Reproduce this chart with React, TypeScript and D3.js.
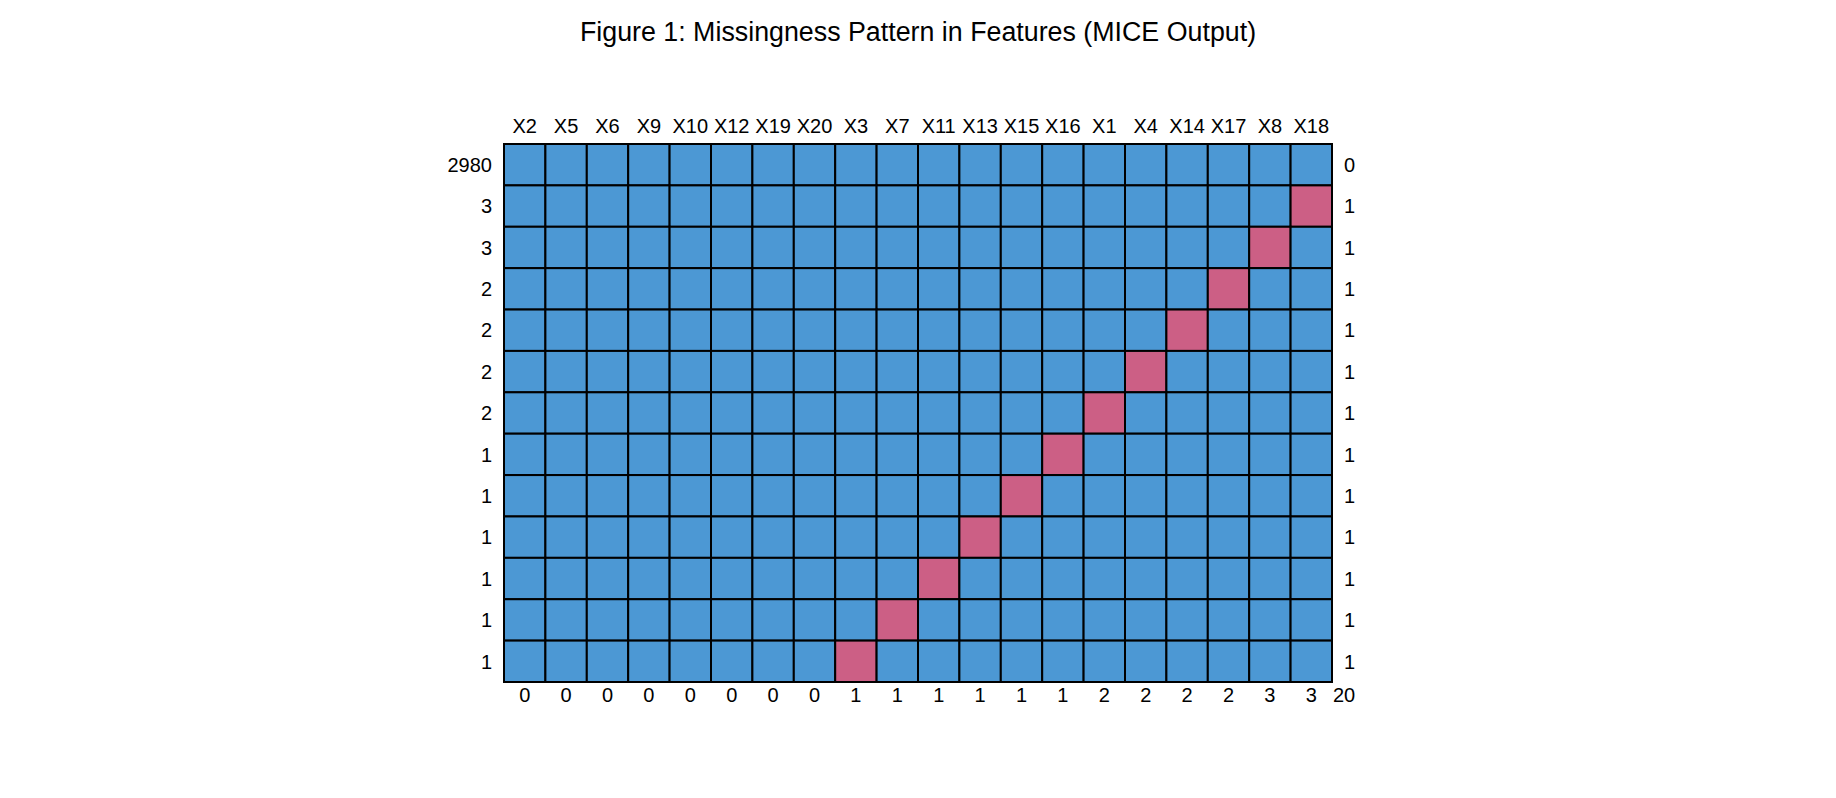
import { useEffect, useRef } from 'react'
import * as d3 from 'd3'

// column order as in the md.pattern output
const variables = ['X2', 'X5', 'X6', 'X9', 'X10', 'X12', 'X19', 'X20', 'X3', 'X7', 'X11', 'X13', 'X15', 'X16', 'X1', 'X4', 'X14', 'X17', 'X8', 'X18']
const varMissingTotals = [0, 0, 0, 0, 0, 0, 0, 0, 1, 1, 1, 1, 1, 1, 2, 2, 2, 2, 3, 3]
const grandTotal = 20

// one row per pattern
const patternCounts = [2980, 3, 3, 2, 2, 2, 2, 1, 1, 1, 1, 1, 1]
const patternMissingVar = [null, 'X18', 'X8', 'X17', 'X14', 'X4', 'X1', 'X16', 'X15', 'X13', 'X11', 'X7', 'X3']
const patternMissingCount = [0, 1, 1, 1, 1, 1, 1, 1, 1, 1, 1, 1, 1]

const OBS = '#4C98D4'
const MIS = '#CC5F85'
const FONT = '"Liberation Sans", Arial, Helvetica, sans-serif'

export default function App() {
  const ref = useRef<SVGSVGElement>(null)

  useEffect(() => {
    const W = 1836, H = 798
    const svg = d3.select(ref.current!)
    svg.selectAll('*').remove()
    svg.attr('width', W).attr('height', H)

    const m = { l: 504, r: 1332, t: 144, b: 682 }
    const x = d3.scaleBand<string>().domain(variables).range([m.l, m.r])
    const rows = d3.range(patternCounts.length)
    const y = d3.scaleBand<number>().domain(rows).range([m.t, m.b])

    svg.append('text').attr('x', W / 2).attr('y', 41).attr('text-anchor', 'middle')
      .attr('font-family', FONT).attr('font-size', 26.8).text('Figure 1: Missingness Pattern in Features (MICE Output)')

    const cells: { r: number; v: string; miss: boolean }[] = []
    rows.forEach(r => variables.forEach(v => cells.push({ r, v, miss: patternMissingVar[r] === v })))

    svg.append('g').selectAll('rect').data(cells).join('rect')
      .attr('x', d => x(d.v)!).attr('y', d => y(d.r)!)
      .attr('width', x.bandwidth()).attr('height', y.bandwidth())
      .attr('fill', d => d.miss ? MIS : OBS)
      .attr('stroke', '#000').attr('stroke-width', 2)

    svg.append('rect').attr('x', m.l).attr('y', m.t).attr('width', m.r - m.l).attr('height', m.b - m.t)
      .attr('fill', 'none').attr('stroke', '#000').attr('stroke-width', 2)

    const txt = svg.append('g').attr('font-family', FONT).attr('font-size', 20).attr('fill', '#000')

    // top: variable names
    txt.selectAll('text.top').data(variables).join('text').attr('class', 'top')
      .attr('x', d => x(d)! + x.bandwidth() / 2).attr('y', 133).attr('text-anchor', 'middle').text(d => d)

    // bottom: missing per variable
    txt.selectAll('text.bot').data(varMissingTotals).join('text').attr('class', 'bot')
      .attr('x', (_, i) => x(variables[i])! + x.bandwidth() / 2).attr('y', 702).attr('text-anchor', 'middle').text(d => d)
    txt.append('text').attr('x', m.r + 12).attr('y', 702).attr('text-anchor', 'middle').text(grandTotal)

    // left: pattern frequency
    txt.selectAll('text.left').data(patternCounts).join('text').attr('class', 'left')
      .attr('x', m.l - 12).attr('y', (_, i) => y(i)! + y.bandwidth() / 2).attr('dy', '0.36em')
      .attr('text-anchor', 'end').text(d => d)

    // right: number missing in pattern
    txt.selectAll('text.right').data(patternMissingCount).join('text').attr('class', 'right')
      .attr('x', m.r + 12).attr('y', (_, i) => y(i)! + y.bandwidth() / 2).attr('dy', '0.36em')
      .attr('text-anchor', 'start').text(d => d)
  }, [])

  return (
    <svg ref={ref} style={{ position: 'absolute', left: 0, top: 0, background: '#fff' }} />
  )
}
